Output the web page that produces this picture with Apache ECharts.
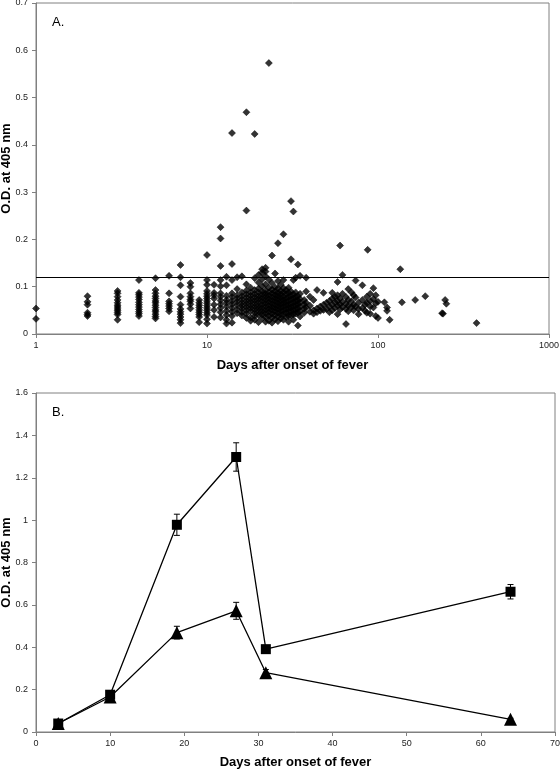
<!DOCTYPE html>
<html>
<head>
<meta charset="utf-8">
<script src="https://cdn.jsdelivr.net/npm/echarts@6/dist/echarts.min.js"></script>
<style>
html,body{margin:0;padding:0;background:#fff;}
#c{width:560px;height:770px;}
</style>
</head>
<body>
<div id="c"></div>
<script>
// ---- Panel A: scatter, days (log) vs O.D. ----
const dayColumns = [1,2,3,4,5,6,7,8,9,10,11,12,13,14,15,16,17,18,19,20,21,22,23,24,25,26,27,28,29,30,31,32,33,34,35,37,38,40,42,44,46,48,50,52,54,56,58,60,62,65,67,70,72,74,77,81,84,86,87,90,94,97,100,109,113,117,135,138,165,189,237,240,247,251,377];
const odByDay = [
  [0.054,0.032],
  [0.080,0.068,0.062,0.045,0.041,0.038],
  [0.091,0.086,0.079,0.072,0.066,0.061,0.057,0.053,0.049,0.045,0.041,0.030],
  [0.114,0.087,0.083,0.078,0.073,0.067,0.062,0.057,0.052,0.047,0.043,0.038],
  [0.118,0.093,0.086,0.080,0.075,0.070,0.066,0.061,0.056,0.051,0.047,0.042,0.037,0.033],
  [0.123,0.086,0.069,0.064,0.059,0.054,0.048],
  [0.146,0.120,0.103,0.079,0.062,0.053,0.047,0.042,0.036,0.030,0.023],
  [0.108,0.100,0.086,0.079,0.073,0.069,0.063,0.054],
  [0.072,0.066,0.061,0.056,0.051,0.046,0.041,0.036,0.025],
  [0.167,0.114,0.104,0.091,0.085,0.080,0.075,0.070,0.065,0.060,0.055,0.050,0.045,0.040,0.031,0.022],
  [0.104,0.087,0.082,0.075,0.062,0.051,0.036],
  [0.226,0.202,0.144,0.114,0.101,0.086,0.079,0.071,0.063,0.055,0.046,0.035],
  [0.121,0.103,0.081,0.072,0.066,0.058,0.049,0.040,0.030,0.022],
  [0.425,0.148,0.114,0.086,0.078,0.070,0.063,0.055,0.047,0.038,0.024],
  [0.120,0.095,0.082,0.075,0.068,0.061,0.052,0.044],
  [0.122,0.088,0.080,0.073,0.066,0.060,0.054,0.046,0.039],
  [0.469,0.261,0.105,0.092,0.084,0.077,0.070,0.064,0.057,0.050,0.043,0.034],
  [0.098,0.088,0.081,0.074,0.068,0.061,0.055,0.048,0.035,0.028],
  [0.423,0.118,0.093,0.085,0.078,0.071,0.065,0.058,0.052,0.045,0.038,0.030],
  [0.125,0.109,0.096,0.088,0.080,0.074,0.067,0.060,0.054,0.047,0.040,0.025],
  [0.137,0.130,0.116,0.101,0.090,0.083,0.076,0.069,0.062,0.055,0.048,0.041,0.033],
  [0.140,0.132,0.122,0.105,0.092,0.085,0.079,0.072,0.065,0.058,0.051,0.044,0.036,0.026],
  [0.573,0.115,0.098,0.088,0.081,0.074,0.067,0.060,0.053,0.046,0.038,0.028],
  [0.166,0.108,0.094,0.086,0.078,0.071,0.064,0.057,0.050,0.043,0.035,0.024],
  [0.128,0.099,0.090,0.083,0.076,0.069,0.062,0.055,0.048,0.040,0.031],
  [0.192,0.112,0.096,0.087,0.080,0.073,0.066,0.059,0.052,0.045,0.037,0.027],
  [0.104,0.091,0.084,0.077,0.070,0.063,0.056,0.049,0.041,0.033],
  [0.211,0.114,0.097,0.088,0.079,0.072,0.065,0.058,0.050,0.042,0.030],
  [0.093,0.085,0.076,0.068,0.061,0.053,0.045,0.036],
  [0.098,0.087,0.078,0.070,0.062,0.055,0.047,0.038,0.026],
  [0.281,0.158,0.090,0.081,0.073,0.064,0.056,0.048,0.039],
  [0.259,0.114,0.084,0.075,0.067,0.059,0.051,0.042,0.030],
  [0.119,0.088,0.078,0.069,0.061,0.052,0.043],
  [0.147,0.080,0.071,0.063,0.054,0.045,0.018],
  [0.123,0.085,0.074,0.066,0.057,0.048,0.037],
  [0.072,0.063,0.054,0.045],
  [0.119,0.090,0.066,0.056],
  [0.079,0.060,0.047],
  [0.072,0.050,0.043],
  [0.093,0.054,0.046],
  [0.058,0.049],
  [0.087,0.062,0.051],
  [0.066,0.053],
  [0.070,0.058,0.046],
  [0.087,0.075,0.062,0.050],
  [0.079,0.067,0.055],
  [0.110,0.082,0.070,0.060,0.042],
  [0.187,0.075,0.063,0.052],
  [0.125,0.085,0.068,0.057],
  [0.078,0.064,0.053,0.021],
  [0.095,0.072,0.060,0.048],
  [0.088,0.069,0.057],
  [0.082,0.062,0.050],
  [0.113,0.077,0.058],
  [0.066,0.053,0.042],
  [0.103,0.072,0.055],
  [0.062,0.049],
  [0.079,0.066,0.045],
  [0.178],
  [0.085,0.070,0.058,0.043],
  [0.097,0.074,0.056],
  [0.082,0.065,0.038],
  [0.068,0.034],
  [0.067],
  [0.056,0.049],
  [0.030],
  [0.137],
  [0.067],
  [0.072],
  [0.080],
  [0.044],
  [0.043],
  [0.072],
  [0.064],
  [0.023]
];
const cutoffOD = 0.115;
const xTicksA = [1, 10, 100, 1000];

// ---- Panel B: mean O.D. with error bars ----
const daysB = [3, 10, 19, 27, 31, 64];
const squareOD = [0.040, 0.176, 0.978, 1.298, 0.391, 0.662];
const squareErr = [0.006, 0.010, 0.050, 0.067, 0.012, 0.034];
const triangleOD = [0.040, 0.165, 0.469, 0.572, 0.280, 0.060];
const triangleErr = [0.006, 0.008, 0.030, 0.040, 0.015, 0.005];

const scatterPts = [];
dayColumns.forEach((d, i) => odByDay[i].forEach(v => scatterPts.push([d, v])));

const FONT = 'Liberation Sans, Arial, sans-serif';
const axisGray = '#808080';

function errSeries(name, days, vals, errs) {
  return {
    name: name,
    type: 'custom',
    xAxisIndex: 1, yAxisIndex: 1,
    z: 3,
    data: days.map((d, i) => [d, vals[i] - errs[i], vals[i] + errs[i]]),
    renderItem: function (params, api) {
      const lo = api.coord([api.value(0), api.value(1)]);
      const hi = api.coord([api.value(0), api.value(2)]);
      const w = 3;
      const st = { stroke: '#000', lineWidth: 1 };
      return {
        type: 'group',
        children: [
          { type: 'line', shape: { x1: lo[0], y1: lo[1], x2: hi[0], y2: hi[1] }, style: st },
          { type: 'line', shape: { x1: lo[0] - w, y1: lo[1], x2: lo[0] + w, y2: lo[1] }, style: st },
          { type: 'line', shape: { x1: hi[0] - w, y1: hi[1], x2: hi[0] + w, y2: hi[1] }, style: st }
        ]
      };
    }
  };
}

const axisLabelStyle = { color: '#222', fontSize: 9, fontFamily: FONT };
const nameStyle = { color: '#000', fontSize: 13, fontWeight: 'bold', fontFamily: FONT };

const chart = echarts.init(document.getElementById('c'), null, { renderer: 'canvas' });
chart.setOption({
  animation: false,
  backgroundColor: '#fff',
  grid: [
    { left: 36, top: 3, right: 11, bottom: 436, show: true, borderColor: axisGray, borderWidth: 1, containLabel: false, outerBoundsMode: 'none' },
    { left: 36, top: 393, right: 5, bottom: 38, show: true, borderColor: axisGray, borderWidth: 1, containLabel: false, outerBoundsMode: 'none' }
  ],
  xAxis: [
    {
      gridIndex: 0, type: 'log', logBase: 10, min: xTicksA[0], max: xTicksA[xTicksA.length - 1],
      name: 'Days after onset of fever', nameLocation: 'middle', nameGap: 25, nameMoveOverlap: false, nameTextStyle: nameStyle,
      axisLine: { lineStyle: { color: axisGray } },
      axisTick: { show: true, lineStyle: { color: axisGray }, length: 4 },
      minorTick: { show: false },
      splitLine: { show: false },
      axisLabel: Object.assign({ margin: 7, formatter: v => String(Math.round(v)) }, axisLabelStyle)
    },
    {
      gridIndex: 1, type: 'value', min: 0, max: 70, interval: 10,
      name: 'Days after onset of fever', nameLocation: 'middle', nameGap: 24, nameMoveOverlap: false, nameTextStyle: nameStyle,
      axisLine: { lineStyle: { color: axisGray } },
      axisTick: { show: true, lineStyle: { color: axisGray }, length: 4 },
      splitLine: { show: false },
      axisLabel: Object.assign({ margin: 7 }, axisLabelStyle)
    }
  ],
  yAxis: [
    {
      gridIndex: 0, type: 'value', min: 0, max: 0.7, interval: 0.1,
      name: 'O.D. at 405 nm', nameLocation: 'middle', nameGap: 23, nameMoveOverlap: false, nameTextStyle: nameStyle,
      axisLine: { show: true, lineStyle: { color: axisGray } },
      axisTick: { show: true, lineStyle: { color: axisGray }, length: 4 },
      splitLine: { show: false },
      axisLabel: Object.assign({ margin: 8 }, axisLabelStyle)
    },
    {
      gridIndex: 1, type: 'value', min: 0, max: 1.6, interval: 0.2,
      name: 'O.D. at 405 nm', nameLocation: 'middle', nameGap: 23, nameMoveOverlap: false, nameTextStyle: nameStyle,
      axisLine: { show: true, lineStyle: { color: axisGray } },
      axisTick: { show: true, lineStyle: { color: axisGray }, length: 4 },
      splitLine: { show: false },
      axisLabel: Object.assign({ margin: 8 }, axisLabelStyle)
    }
  ],
  graphic: [
    { type: 'text', left: 52, top: 16, style: { text: 'A.', fontSize: 13, fontFamily: FONT, fill: '#000' } },
    { type: 'text', left: 52, top: 406, style: { text: 'B.', fontSize: 13, fontFamily: FONT, fill: '#000' } }
  ],
  series: [
    {
      name: 'samples', type: 'scatter', xAxisIndex: 0, yAxisIndex: 0,
      symbol: 'diamond', symbolSize: 7,
      itemStyle: { color: '#000', borderColor: '#000', borderWidth: 0.6 },
      data: scatterPts,
      markLine: {
        silent: true, symbol: 'none', label: { show: false },
        lineStyle: { color: '#000', width: 1, type: 'solid' },
        data: [{ yAxis: cutoffOD }]
      }
    },
    {
      name: 'triangles', type: 'line', xAxisIndex: 1, yAxisIndex: 1,
      symbol: 'triangle', symbolSize: 13, z: 4,
      lineStyle: { color: '#000', width: 1.3 },
      itemStyle: { color: '#000' },
      data: daysB.map((d, i) => [d, triangleOD[i]])
    },
    errSeries('triangleErr', daysB, triangleOD, triangleErr),
    {
      name: 'squares', type: 'line', xAxisIndex: 1, yAxisIndex: 1,
      symbol: 'rect', symbolSize: 10, z: 5,
      lineStyle: { color: '#000', width: 1.3 },
      itemStyle: { color: '#000' },
      data: daysB.map((d, i) => [d, squareOD[i]])
    },
    errSeries('squareErr', daysB, squareOD, squareErr)
  ]
});
</script>
</body>
</html>
